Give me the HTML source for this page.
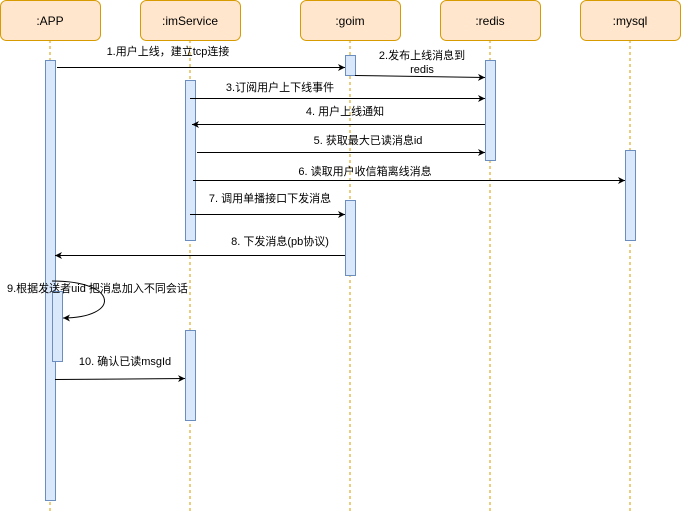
<!DOCTYPE html>
<html><head><meta charset="utf-8"><style>
body{margin:0;background:#fff;width:681px;height:511px;overflow:hidden}
</style></head><body>
<svg width="681" height="511" viewBox="0 0 681 511" xmlns="http://www.w3.org/2000/svg" font-family="Liberation Sans, Noto Sans CJK SC, sans-serif" font-size="11" fill="#000">
<defs><marker id="a" markerWidth="8" markerHeight="8" refX="7" refY="4" orient="auto" markerUnits="userSpaceOnUse"><path d="M0,0.5 L7,4 L0,7.5 L2,4 Z" fill="#000"/></marker></defs>
<g stroke="#d79b00" stroke-dasharray="3,3" stroke-width="1">
<line x1="50" y1="40" x2="50" y2="511"/><line x1="190" y1="40" x2="190" y2="511"/><line x1="350" y1="40" x2="350" y2="511"/><line x1="490" y1="40" x2="490" y2="511"/><line x1="630" y1="40" x2="630" y2="511"/>
</g>
<g fill="#ffe6cc" stroke="#d79b00">
<rect x="0.5" y="0.5" width="100" height="40" rx="6"/><rect x="140.5" y="0.5" width="100" height="40" rx="6"/><rect x="300.5" y="0.5" width="100" height="40" rx="6"/><rect x="440.5" y="0.5" width="100" height="40" rx="6"/><rect x="580.5" y="0.5" width="100" height="40" rx="6"/>
</g>
<g font-size="12" text-anchor="middle">
<text x="50" y="25">:APP</text><text x="190" y="25">:imService</text><text x="350" y="25">:goim</text><text x="490" y="25">:redis</text><text x="630" y="25">:mysql</text>
</g>
<g fill="#dae8fc" stroke="#6c8ebf">
<rect x="45.5" y="60.5" width="10" height="440"/>
<rect x="185.5" y="80.5" width="10" height="160"/>
<rect x="185.5" y="330.5" width="10" height="90"/>
<rect x="345.5" y="55.5" width="10" height="20"/>
<rect x="345.5" y="200.5" width="10" height="75"/>
<rect x="485.5" y="60.5" width="10" height="100"/>
<rect x="625.5" y="150.5" width="10" height="90"/>
<rect x="52.5" y="291.5" width="10" height="70"/>
</g>
<g stroke="#000" fill="none" marker-end="url(#a)">
<line x1="57" y1="67.5" x2="345" y2="67.5"/>
<line x1="355" y1="75.5" x2="485" y2="77.5"/>
<line x1="190" y1="98.5" x2="485" y2="98.5"/>
<line x1="485" y1="124.5" x2="192" y2="124.5"/>
<line x1="197" y1="152.5" x2="485" y2="152.5"/>
<line x1="193" y1="180.5" x2="625" y2="180.5"/>
<line x1="190" y1="214.5" x2="345" y2="214.5"/>
<line x1="345" y1="255.5" x2="55" y2="255.5"/>
<path d="M52,281 C120,281 120,318 63,318"/>
<line x1="55" y1="379.5" x2="185" y2="378.5"/>
</g>
<g text-anchor="middle">
<text x="168" y="55">1.用户上线，建立tcp连接</text>
<text x="422" y="59">2.发布上线消息到</text><text x="422" y="73">redis</text>
<text x="280" y="91">3.订阅用户上下线事件</text>
<text x="345" y="115">4. 用户上线通知</text>
<text x="368" y="144">5. 获取最大已读消息id</text>
<text x="365" y="175">6. 读取用户收信箱离线消息</text>
<text x="270" y="202">7. 调用单播接口下发消息</text>
<text x="280" y="245">8. 下发消息(pb协议)</text>
<text x="125" y="365">10. 确认已读msgId</text>
</g>
<text x="7" y="292">9.根据发送者uid 把消息加入不同会话</text>
</svg>
</body></html>
